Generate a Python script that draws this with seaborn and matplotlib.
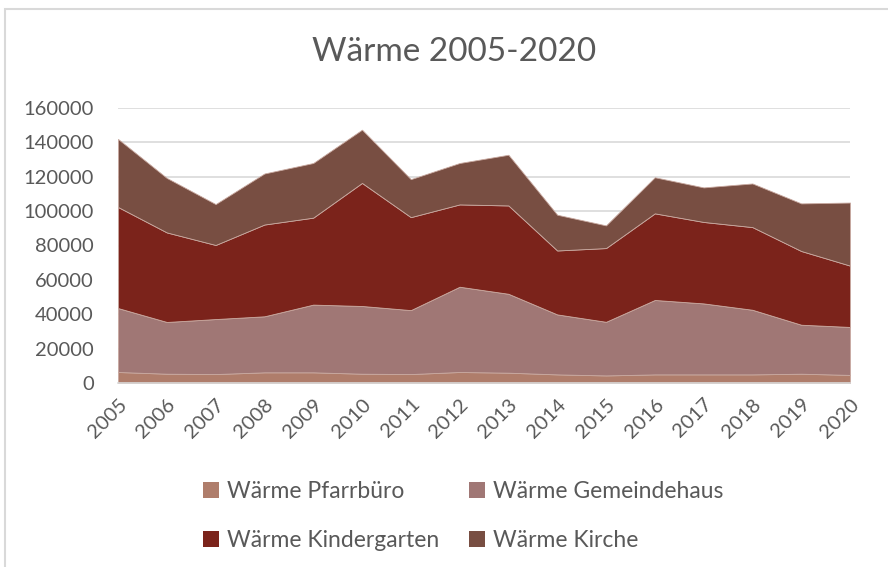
import numpy as np
import pandas as pd
import seaborn as sns
import matplotlib.pyplot as plt
from matplotlib.patches import Rectangle, Patch

# Daten
jahre = [str(j) for j in range(2005, 2021)]
pfarrbuero = [6400, 5400, 5200, 6200, 6200, 5400, 5200, 6400,
              6000, 5000, 4400, 5000, 5000, 5000, 5400, 4700]
gemeindehaus = [37200, 30100, 32000, 32600, 39400, 39400, 37200, 49600,
                45900, 34900, 31200, 43300, 41300, 37600, 28500, 27900]
kindergarten = [58800, 52100, 43100, 53400, 50600, 71600, 54100, 47900,
                51400, 37200, 42900, 50400, 47400, 48100, 42900, 35700]
kirche = [39600, 31700, 23800, 29700, 31800, 31000, 22100, 24100,
          29500, 20800, 13200, 21000, 20100, 25400, 27700, 36700]

serien = ['Wärme Pfarrbüro', 'Wärme Gemeindehaus', 'Wärme Kindergarten', 'Wärme Kirche']
farben = ['#AF7D6B', '#A07775', '#7B231B', '#784E42']

df = pd.DataFrame({'Jahr': jahre,
                   serien[0]: pfarrbuero,
                   serien[1]: gemeindehaus,
                   serien[2]: kindergarten,
                   serien[3]: kirche})

sns.set_theme(style='white')
plt.rcParams['font.family'] = ['Lato', 'DejaVu Sans']
textfarbe = '#595959'

fig = plt.figure(figsize=(8.88, 5.67), dpi=100)
ax = fig.add_axes([118/888, 1-383/567, (850-118)/888, (383-108)/567])

x = np.arange(len(jahre))
ax.stackplot(x, [df[s] for s in serien], colors=farben,
             edgecolor='#C9A9A0', linewidth=0.6, zorder=2)

ax.set_xlim(0, len(jahre)-1)
ax.set_ylim(0, 160000)
ax.set_yticks(range(0, 160001, 20000))
ax.yaxis.grid(True, color='#D9D9D9', linewidth=1.2, zorder=0)
ax.set_axisbelow(True)
for s in ['top', 'right', 'left']:
    ax.spines[s].set_visible(False)
ax.spines['bottom'].set_color('#D9D9D9')
ax.spines['bottom'].set_linewidth(1.2)

ax.set_xticks(x)
ax.set_xticklabels(jahre, rotation=45, ha='right', rotation_mode='anchor')
ax.tick_params(axis='both', colors=textfarbe, labelsize=14.5, length=0)
ax.tick_params(axis='x', pad=9)
ax.tick_params(axis='y', pad=17.5)

fig.text(0.511, 1-52/567, 'Wärme 2005-2020', ha='center', va='center',
         fontsize=24, color=textfarbe)

# Reihenfolge so, dass die Legende zeilenweise liest
order = [0, 2, 1, 3]
handles = [Patch(facecolor=farben[i], edgecolor='none') for i in order]
labels = [serien[i] for i in order]
leg = fig.legend(handles, labels, loc='center', bbox_to_anchor=(0.522, 1-516/567),
                 ncol=2, frameon=False, fontsize=16.5, handlelength=0.7,
                 handleheight=0.7, handletextpad=0.35, columnspacing=1.3,
                 labelspacing=1.2)
for t in leg.get_texts():
    t.set_color(textfarbe)

# Rahmen
fig.patches.append(Rectangle((5/888, -0.1), 1.1, 1-9/567+0.1,
                             transform=fig.transFigure, fill=False,
                             edgecolor='#D9D9D9', linewidth=1.5))

fig.savefig('out.png', dpi=100)
